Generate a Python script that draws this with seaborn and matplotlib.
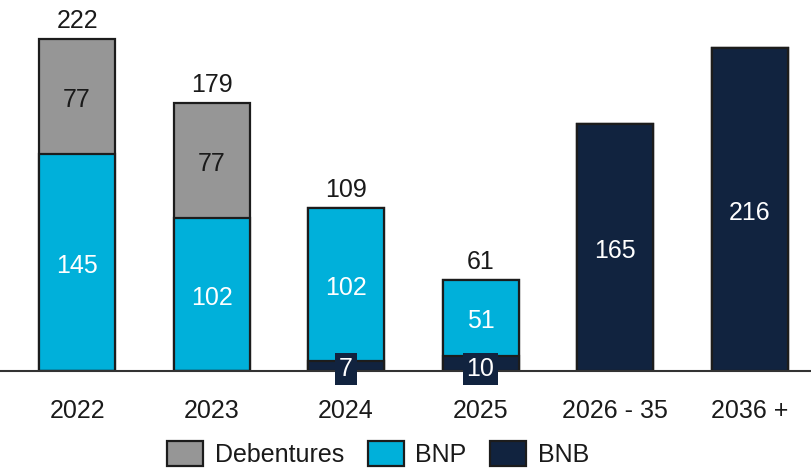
import matplotlib
matplotlib.use("Agg")
import matplotlib.pyplot as plt
import seaborn as sns
import pandas as pd
from matplotlib.patches import Patch

categories = ["2022", "2023", "2024", "2025", "2026 - 35", "2036 +"]
debentures = [77, 77, 0, 0, 0, 0]
bnp = [145, 102, 102, 51, 0, 0]
bnb = [0, 0, 7, 10, 165, 216]
totals = [222, 179, 109, 61, None, None]

c_deb = "#969696"
c_bnp = "#00B0DA"
c_bnb = "#11233F"
edge = "#1c1c1c"

sns.set_theme(style="white")
plt.rcParams['font.family'] = ['Liberation Sans', 'DejaVu Sans']

df = pd.DataFrame({"cat": categories, "deb": debentures, "bnp": bnp, "bnb": bnb})
df["top"] = df["deb"] + df["bnp"] + df["bnb"]
df["mid"] = df["bnp"] + df["bnb"]

fig = plt.figure(figsize=(8.11, 4.68), dpi=100)
ax = fig.add_axes([0, 97 / 468, 1, 371 / 468])

W = 0.565
kw = dict(edgecolor=edge, linewidth=1.6, width=W, ax=ax)
sns.barplot(data=df, x="cat", y="top", color=c_deb, saturation=1, **kw)
sns.barplot(data=df, x="cat", y="mid", color=c_bnp, saturation=1, **kw)
sns.barplot(data=df, x="cat", y="bnb", color=c_bnb, saturation=1, **kw)

fs = 18
txt = "#1a1a1a"
dy = -2.2
for i in range(len(categories)):
    b, p, d = bnb[i], bnp[i], debentures[i]
    if d > 0:
        ax.text(i, b + p + d / 2 + dy, str(d), ha="center", va="center", fontsize=fs, color=txt)
    if p > 0:
        ax.text(i, b + p / 2 + dy, str(p), ha="center", va="center", fontsize=fs, color="white")
    if b > 0:
        if b < 30:
            ax.text(i, 1.5, str(b), ha="center", va="center", fontsize=fs, color="white",
                    bbox=dict(boxstyle="square,pad=0.15", facecolor=c_bnb, edgecolor="none"))
        else:
            ax.text(i, b / 2 + dy, str(b), ha="center", va="center", fontsize=fs, color="white")
    if totals[i] is not None:
        ax.text(i, totals[i] + 4, str(totals[i]), ha="center", va="bottom", fontsize=fs, color=txt)

ax.set_xlim(-0.573, 5.457)
ax.set_ylim(0, 248)
ax.set_xlabel("")
ax.set_ylabel("")
ax.set_yticks([])
for s in ["top", "left", "right"]:
    ax.spines[s].set_visible(False)
ax.spines["bottom"].set_color("#333333")
ax.spines["bottom"].set_linewidth(1.5)
ax.tick_params(axis="x", length=0, pad=20, labelsize=fs, labelcolor=txt)

handles = [Patch(facecolor=c_deb, edgecolor=edge, linewidth=1.6, label="Debentures"),
           Patch(facecolor=c_bnp, edgecolor=edge, linewidth=1.6, label="BNP"),
           Patch(facecolor=c_bnb, edgecolor=edge, linewidth=1.6, label="BNB")]
leg = fig.legend(handles=handles, loc="lower center", bbox_to_anchor=(0.466, -0.03), ncol=3,
                 frameon=False, fontsize=fs, handlelength=1.45, handleheight=1.15,
                 handletextpad=0.45, columnspacing=0.95, borderpad=0.1)
for t in leg.get_texts():
    t.set_color(txt)

fig.savefig("out.png", dpi=100)
